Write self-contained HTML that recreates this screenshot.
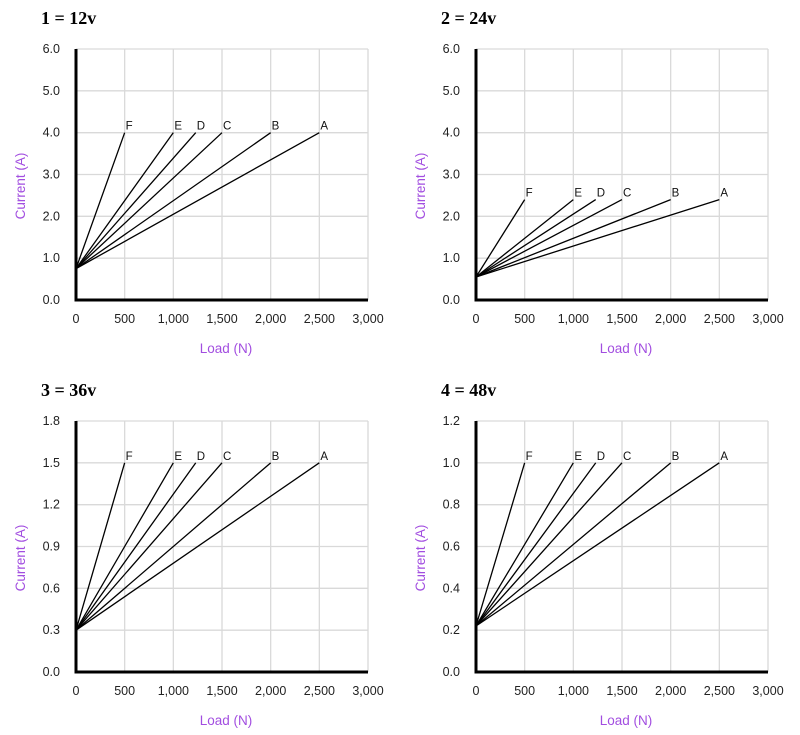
<!DOCTYPE html>
<html><head><meta charset="utf-8"><style>
body{margin:0;background:#fff;width:800px;height:735px;overflow:hidden}
svg{display:block}
.t{font-family:"Liberation Sans",sans-serif}
.ti{font-family:"Liberation Serif",serif;font-weight:bold}
</style></head><body>
<svg id="s" width="800" height="735" xmlns="http://www.w3.org/2000/svg"></svg>
<script>
var s=document.getElementById('s'),h='';
function chart(ox,oy,title,max,step,dec,origin,end){
  var L=ox+76,R=ox+368,T=oy+49,B=oy+300;
  var xs=function(v){return L+(R-L)*v/3000},ys=function(v){return B-(B-T)*v/max};
  h+='<text class="ti" x="'+(ox+41)+'" y="'+(oy+24)+'" font-size="18">'+title+'</text>';
  for(var i=1;i<=6;i++){var x=xs(i*500);h+='<line x1="'+x+'" y1="'+T+'" x2="'+x+'" y2="'+B+'" stroke="#d9d9d9" stroke-width="1.3"/>';}
  var n=Math.round(max/step);
  for(var j=0;j<=n;j++){var v=j*step,y=ys(v);
    if(j>0)h+='<line x1="'+L+'" y1="'+y+'" x2="'+R+'" y2="'+y+'" stroke="#d9d9d9" stroke-width="1.3"/>';
    h+='<text class="t" x="'+(ox+60)+'" y="'+(y+4)+'" font-size="12.5" text-anchor="end" fill="#222">'+v.toFixed(dec)+'</text>';}
  var lab=['0','500','1,000','1,500','2,000','2,500','3,000'];
  for(var i=0;i<=6;i++)h+='<text class="t" x="'+xs(i*500)+'" y="'+(B+23)+'" font-size="12.5" text-anchor="middle" fill="#222">'+lab[i]+'</text>';
  var ser=[['A',2500],['B',2000],['C',1500],['D',1230],['E',1000],['F',500]];
  ser.forEach(function(p){var x=xs(p[1]),y=ys(end);
    h+='<line x1="'+L+'" y1="'+ys(origin)+'" x2="'+x+'" y2="'+y+'" stroke="#000" stroke-width="1.3"/>';
    h+='<text class="t" x="'+(x+1)+'" y="'+(y-3)+'" font-size="11.5" fill="#111">'+p[0]+'</text>';});
  h+='<line x1="'+L+'" y1="'+T+'" x2="'+L+'" y2="'+(B+1.5)+'" stroke="#000" stroke-width="3"/>';
  h+='<line x1="'+(L-1.5)+'" y1="'+B+'" x2="'+R+'" y2="'+B+'" stroke="#000" stroke-width="3"/>';
  h+='<text class="t" x="'+(ox+226)+'" y="'+(oy+353)+'" font-size="13.5" fill="#a24ee0" text-anchor="middle">Load (N)</text>';
  h+='<text class="t" transform="translate('+(ox+25)+','+(oy+186)+') rotate(-90)" font-size="13.5" fill="#a24ee0" text-anchor="middle">Current (A)</text>';
}
chart(0,0,'1 = 12v',6,1,1,0.75,4);
chart(400,0,'2 = 24v',6,1,1,0.55,2.4);
chart(0,372,'3 = 36v',1.8,0.3,1,0.3,1.5);
chart(400,372,'4 = 48v',1.2,0.2,1,0.22,1.0);
s.innerHTML=h;
</script>
</body></html>
